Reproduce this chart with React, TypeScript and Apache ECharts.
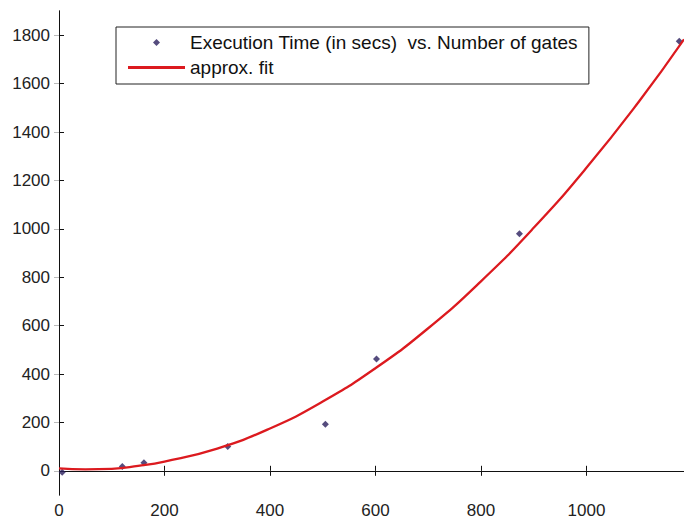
import React, { useEffect, useRef } from "react";
import * as echarts from "echarts";

const gateCounts = [6, 120, 161, 320, 505, 602, 873, 1176];
const execTimes = [-6, 18, 33, 100, 192, 462, 980, 1775];

const fitX = [0, 50, 100, 150, 200, 300, 400, 500, 600, 700, 800, 900, 1000, 1100, 1185];
const fitY = [10, 6, 8, 20, 38, 92, 175, 286, 424, 589, 783, 1004, 1252, 1527, 1783];

const xTickValues = [0, 200, 400, 600, 800, 1000];
const yTickValues = [0, 200, 400, 600, 800, 1000, 1200, 1400, 1600, 1800];

const scatterName = "Execution Time (in secs)  vs. Number of gates";
const fitName = "approx. fit";

export default function App() {
  const ref = useRef<HTMLDivElement>(null);
  useEffect(() => {
    if (!ref.current) return;
    const chart = echarts.init(ref.current, null, { renderer: "svg" });
    const font = "'Liberation Sans', Arial, Helvetica, sans-serif";
    const axisLineStyle = { color: "#111", width: 1 };
    const labelStyle = {
      color: "#222",
      fontSize: 17,
      fontFamily: font,
      formatter: (v: number) => String(v),
    };
    chart.setOption({
      animation: false,
      backgroundColor: "#fff",
      grid: { left: 59, right: -2, top: 11, bottom: 26, containLabel: false },
      legend: {
        orient: "vertical",
        left: 116,
        top: 27,
        padding: [6, 11, 7, 12],
        itemGap: 6,
        itemWidth: 57,
        itemHeight: 7,
        symbolKeepAspect: true,
        borderColor: "#222",
        borderWidth: 1,
        backgroundColor: "#fff",
        textStyle: { color: "#111", fontSize: 19, fontFamily: font },
        data: [
          { name: scatterName, icon: "path://M0,-1L1,0L0,1L-1,0Z" },
          { name: fitName, icon: "path://M0,0H57V3H0Z" },
        ],
      },
      xAxis: [
        {
          type: "value",
          min: 0,
          max: 1185,
          position: "bottom",
          axisLine: { show: true, lineStyle: axisLineStyle },
          axisTick: { show: true, inside: true, length: 5, customValues: xTickValues, lineStyle: axisLineStyle },
          axisLabel: { customValues: xTickValues, margin: 7, ...labelStyle },
          splitLine: { show: false },
        },
        {
          type: "value",
          min: 0,
          max: 1185,
          position: "top",
          axisLine: { show: true, lineStyle: axisLineStyle },
          axisTick: { show: true, inside: true, length: 5, customValues: xTickValues, lineStyle: axisLineStyle },
          axisLabel: { show: false },
          splitLine: { show: false },
        },
      ],
      yAxis: [
        {
          type: "value",
          min: -100,
          max: 1900,
          position: "left",
          axisLine: { show: true, lineStyle: axisLineStyle },
          axisTick: { show: true, inside: true, length: 5, customValues: yTickValues, lineStyle: axisLineStyle },
          axisLabel: { customValues: yTickValues, margin: 9, ...labelStyle },
          splitLine: { show: false },
        },
        {
          type: "value",
          min: -100,
          max: 1900,
          position: "right",
          axisLine: { show: true, lineStyle: axisLineStyle },
          axisTick: { show: true, inside: true, length: 5, customValues: yTickValues, lineStyle: { color: "#bbb", width: 1 } },
          axisLabel: { show: false },
          splitLine: { show: false },
        },
      ],
      series: [
        {
          name: fitName,
          type: "line",
          xAxisIndex: 0,
          yAxisIndex: 0,
          data: fitX.map((x, i) => [x, fitY[i]]),
          smooth: true,
          symbol: "none",
          lineStyle: { color: "#dc1a1f", width: 2.3 },
          itemStyle: { color: "#dc1a1f" },
          z: 3,
        },
        {
          name: scatterName,
          type: "scatter",
          xAxisIndex: 0,
          yAxisIndex: 0,
          data: gateCounts.map((x, i) => [x, execTimes[i]]),
          symbol: "diamond",
          symbolSize: 7,
          itemStyle: { color: "#2a1f5e" },
          z: 2,
        },
      ],
    });
    return () => chart.dispose();
  }, []);
  return (
    <div
      ref={ref}
      style={{ width: 684, height: 521, position: "absolute", left: 0, top: 0 }}
    />
  );
}
